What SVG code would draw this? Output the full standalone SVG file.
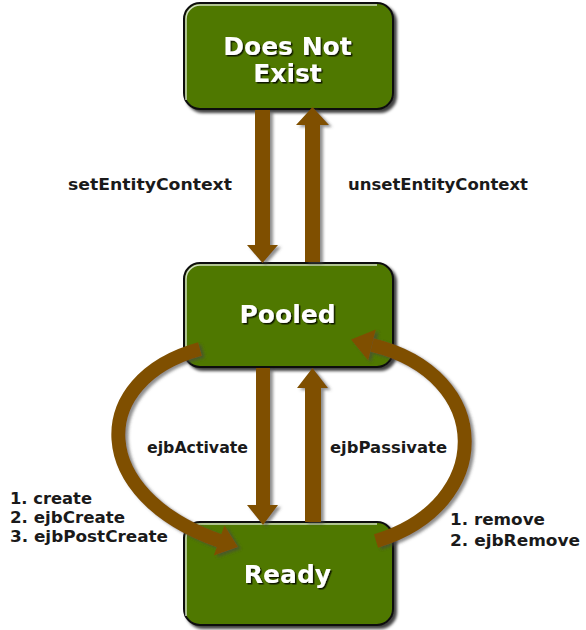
<svg xmlns="http://www.w3.org/2000/svg" width="586" height="630" viewBox="0 0 586 630">
<defs>
<style>
.box{fill:#507800;stroke:#111;stroke-width:2}
.hl{fill:none;stroke:#e8efe0;stroke-width:1.5;opacity:.85}
.nt{font-family:"DejaVu Sans","Liberation Sans",sans-serif;font-weight:bold;font-size:25px;fill:#fff;text-anchor:middle}
.lb{font-family:"DejaVu Sans","Liberation Sans",sans-serif;font-weight:bold;font-size:16px;fill:#1a1a1a}
.shaft{fill:#7f5000}
.curve{fill:none;stroke:#7f5000;stroke-width:14}
</style>
<filter id="bs" x="-10%" y="-10%" width="125%" height="130%">
<feDropShadow dx="3" dy="3" stdDeviation="1.6" flood-color="#000" flood-opacity="0.75"/>
</filter>
<filter id="as" x="-20%" y="-20%" width="150%" height="150%">
<feDropShadow dx="3" dy="2" stdDeviation="1.5" flood-color="#444" flood-opacity="0.6"/>
</filter>
<filter id="ts" x="-10%" y="-20%" width="120%" height="150%">
<feDropShadow dx="1.5" dy="1.5" stdDeviation="0.6" flood-color="#000" flood-opacity="0.8"/>
</filter>
</defs>
<rect width="586" height="630" fill="#fff"/>

<g id="node-does-not-exist">
<rect class="box" x="184" y="3" width="209" height="106" rx="16" filter="url(#bs)"/>
<path class="hl" d="M186 100 V19 A14 14 0 0 1 200 5 H377"/>
<text class="nt" x="287.5" y="55" filter="url(#ts)">Does Not</text>
<text class="nt" x="287.5" y="82" filter="url(#ts)">Exist</text>
</g>

<g id="node-pooled">
<rect class="box" x="184" y="263" width="209" height="104" rx="16" filter="url(#bs)"/>
<path class="hl" d="M186 358 V279 A14 14 0 0 1 200 265 H377"/>
<text class="nt" x="287.5" y="323" filter="url(#ts)">Pooled</text>
</g>

<g id="node-ready">
<rect class="box" x="184" y="522" width="209" height="103" rx="16" filter="url(#bs)"/>
<path class="hl" d="M186 616 V538 A14 14 0 0 1 200 524 H377"/>
<text class="nt" x="287.5" y="583" filter="url(#ts)">Ready</text>
</g>

<g id="connectors" filter="url(#as)">
<!-- setEntityContext: Does Not Exist -> Pooled -->
<path class="shaft" d="M255 110 H270 V245 H278 L262.5 263 L247 245 H255 Z"/>
<!-- unsetEntityContext: Pooled -> Does Not Exist -->
<path class="shaft" d="M305 262 H320 V125 H329 L312.5 107 L296 125 H305 Z"/>
<!-- ejbActivate: Pooled -> Ready -->
<path class="shaft" d="M256 368 H270 V505 H278 L263 525 L247 505 H256 Z"/>
<!-- ejbPassivate: Ready -> Pooled -->
<path class="shaft" d="M305 522 H321 V388 H328 L312.5 368 L297 388 H305 Z"/>
<!-- create: Pooled -> Ready (left curve) -->
<path class="curve" d="M200 349 C88 380 88 495 220 541"/>
<path class="shaft" d="M213.8 555.5 L238 547 L224.4 525.3 Z"/>
<!-- remove: Ready -> Pooled (right curve) -->
<path class="curve" d="M376 541 C495 505 495 375 372 345"/>
<path class="shaft" d="M375.8 329.5 L351 339.5 L368.2 360.5 Z"/>
</g>

<g id="labels">
<text class="lb" x="68" y="190" textLength="164" lengthAdjust="spacingAndGlyphs">setEntityContext</text>
<text class="lb" x="348" y="190" textLength="180" lengthAdjust="spacingAndGlyphs">unsetEntityContext</text>
<text class="lb" x="147" y="453" textLength="101" lengthAdjust="spacingAndGlyphs">ejbActivate</text>
<text class="lb" x="330" y="453" textLength="117" lengthAdjust="spacingAndGlyphs">ejbPassivate</text>
<text class="lb" x="10" y="504" textLength="82" lengthAdjust="spacingAndGlyphs">1. create</text>
<text class="lb" x="10" y="523" textLength="115" lengthAdjust="spacingAndGlyphs">2. ejbCreate</text>
<text class="lb" x="10" y="542" textLength="158" lengthAdjust="spacingAndGlyphs">3. ejbPostCreate</text>
<text class="lb" x="450" y="525" textLength="95" lengthAdjust="spacingAndGlyphs">1. remove</text>
<text class="lb" x="450" y="546" textLength="130" lengthAdjust="spacingAndGlyphs">2. ejbRemove</text>
</g>
</svg>
